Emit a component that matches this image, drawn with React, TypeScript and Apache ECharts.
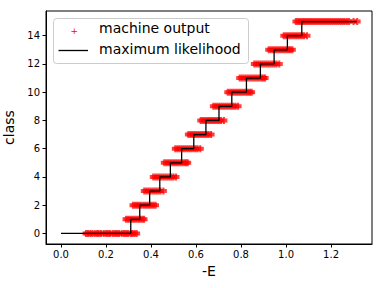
import React, { useEffect, useRef } from "react";
import * as echarts from "echarts";

// Machine output samples (x = -E) for each class
const c0 = [0.111, 0.12, 0.13, 0.139, 0.15, 0.16, 0.168, 0.178, 0.19, 0.2, 0.209, 0.218, 0.23, 0.24, 0.249, 0.258, 0.27, 0.28, 0.289, 0.298, 0.31, 0.318, 0.327, 0.336];
const c1 = [0.289, 0.298, 0.307, 0.316, 0.325, 0.334, 0.343, 0.352, 0.361, 0.369];
const c2 = [0.32, 0.329, 0.338, 0.347, 0.356, 0.366, 0.375, 0.384, 0.393, 0.402, 0.411, 0.42];
const c3 = [0.37, 0.379, 0.388, 0.397, 0.406, 0.415, 0.424, 0.433, 0.442, 0.455];
const c4 = [0.41, 0.419, 0.428, 0.437, 0.446, 0.455, 0.464, 0.473, 0.482, 0.491, 0.5, 0.511];
const c5 = [0.459, 0.468, 0.477, 0.486, 0.495, 0.504, 0.513, 0.522, 0.531, 0.54, 0.549, 0.556, 0.563];
const c6 = [0.508, 0.517, 0.526, 0.535, 0.544, 0.553, 0.562, 0.571, 0.58, 0.589, 0.598, 0.607, 0.619];
const c7 = [0.566, 0.575, 0.584, 0.593, 0.602, 0.611, 0.62, 0.629, 0.638, 0.647, 0.656, 0.667];
const c8 = [0.621, 0.63, 0.639, 0.648, 0.657, 0.666, 0.675, 0.684, 0.693, 0.702, 0.711, 0.724];
const c9 = [0.677, 0.686, 0.695, 0.704, 0.713, 0.722, 0.731, 0.74, 0.749, 0.758, 0.767, 0.776, 0.787];
const c10 = [0.741, 0.75, 0.759, 0.768, 0.777, 0.786, 0.795, 0.804, 0.813, 0.822, 0.831, 0.84, 0.847];
const c11 = [0.794, 0.803, 0.812, 0.821, 0.83, 0.839, 0.848, 0.857, 0.866, 0.875, 0.884, 0.893, 0.9, 0.907];
const c12 = [0.859, 0.868, 0.877, 0.886, 0.895, 0.904, 0.913, 0.922, 0.931, 0.94, 0.949, 0.958, 0.97];
const c13 = [0.923, 0.932, 0.941, 0.95, 0.959, 0.968, 0.977, 0.986, 0.995, 1.004, 1.013, 1.02, 1.028];
const c14 = [0.99, 0.999, 1.008, 1.017, 1.026, 1.035, 1.044, 1.053, 1.062, 1.071, 1.08, 1.093];
const c15 = [1.044, 1.053, 1.062, 1.071, 1.08, 1.089, 1.098, 1.107, 1.116, 1.125, 1.134, 1.143, 1.152, 1.161, 1.17, 1.179, 1.188, 1.197, 1.206, 1.215, 1.224, 1.233, 1.242, 1.251, 1.26, 1.27, 1.28, 1.3, 1.316];
const machineOutput = [c0, c1, c2, c3, c4, c5, c6, c7, c8, c9, c10, c11, c12, c13, c14, c15];

// Maximum likelihood step boundaries
const stepX = [0, 0.31, 0.35, 0.394, 0.439, 0.486, 0.536, 0.59, 0.644, 0.702, 0.759, 0.824, 0.886, 0.947, 1.006, 1.07, 1.314];
const stepY = [0, 1, 2, 3, 4, 5, 6, 7, 8, 9, 10, 11, 12, 13, 14, 15, 15];

const xTicks = [0, 0.2, 0.4, 0.6, 0.8, 1.0, 1.2];
const yTicks = [0, 2, 4, 6, 8, 10, 12, 14];

const FONT = "DejaVu Sans";
// cross: vertical arm 2.1 wide, horizontal arm 4 tall (7 x 7 box)
const CROSS = "path://M2.45,0h2.1v1.5h2.45v4h-2.45v1.5h-2.1v-1.5h-2.45v-4h2.45z";

export default function App() {
  const ref = useRef<HTMLDivElement>(null);
  useEffect(() => {
    if (!ref.current) return;
    const chart = echarts.init(ref.current, undefined, { renderer: "svg" });
    const scatterData: number[][] = [];
    machineOutput.forEach((xs, cls) => xs.forEach((x) => scatterData.push([x, cls])));
    const lineData = stepX.map((x, i) => [x, stepY[i]]);
    chart.setOption({
      animation: false,
      grid: {
        left: 46, right: 12, top: 11, bottom: 44,
        outerBoundsMode: "none", containLabel: false,
        show: true, borderColor: "#000", borderWidth: 1, backgroundColor: "transparent",
      },
      xAxis: {
        type: "value", min: -0.0667, max: 1.382,
        name: "-E", nameLocation: "middle", nameGap: 19,
        nameTextStyle: { fontFamily: FONT, fontSize: 14, color: "#000" },
        axisLine: { onZero: false, lineStyle: { color: "#000", width: 1 } },
        axisTick: { show: true, length: 3.5, customValues: xTicks, lineStyle: { color: "#000" } },
        axisLabel: {
          customValues: xTicks, margin: 5, fontFamily: FONT, fontSize: 10, color: "#000",
          formatter: (v: number) => v.toFixed(1),
        },
        splitLine: { show: false },
      },
      yAxis: {
        type: "value", min: -0.75, max: 15.75,
        name: "class", nameLocation: "middle", nameGap: 24,
        nameTextStyle: { fontFamily: FONT, fontSize: 14, color: "#000" },
        axisLine: { onZero: false, lineStyle: { color: "#000", width: 1 } },
        axisTick: { show: true, length: 3.5, customValues: yTicks, lineStyle: { color: "#000" } },
        axisLabel: {
          customValues: yTicks, margin: 6, fontFamily: FONT, fontSize: 10, color: "#000",
          formatter: (v: number) => String(v),
        },
        splitLine: { show: false },
      },
      series: [
        {
          name: "machine output", type: "scatter", data: scatterData,
          symbol: CROSS, symbolSize: 7,
          itemStyle: { color: "#ff0000", opacity: 0.75 },
          z: 2,
        },
        {
          name: "maximum likelihood", type: "line", data: lineData, step: "end",
          showSymbol: false, symbol: "none",
          lineStyle: { color: "#000", width: 1.3 },
          z: 3,
        },
      ],
      graphic: [
        {
          type: "rect", left: 53, top: 18, z: 100,
          shape: { width: 195, height: 45, r: 3 },
          style: { fill: "rgba(255,255,255,0.8)", stroke: "#cccccc", lineWidth: 1 },
        },
        {
          type: "text", left: 70.5, top: 26, z: 101,
          style: { text: "+", fontFamily: FONT, fontSize: 9, fill: "#ff0000" },
        },
        {
          type: "line", z: 101,
          shape: { x1: 58.5, y1: 50.5, x2: 88, y2: 50.5 },
          style: { stroke: "#000", lineWidth: 1.3 },
        },
        {
          type: "text", left: 99, top: 21, z: 101,
          style: { text: "machine output", fontFamily: FONT, fontSize: 14, fill: "#000" },
        },
        {
          type: "text", left: 99, top: 42, z: 101,
          style: { text: "maximum likelihood", fontFamily: FONT, fontSize: 14, fill: "#000" },
        },
      ],
    });
    return () => chart.dispose();
  }, []);
  return <div ref={ref} style={{ width: 384, height: 288, position: "absolute", left: 0, top: 0 }} />;
}
